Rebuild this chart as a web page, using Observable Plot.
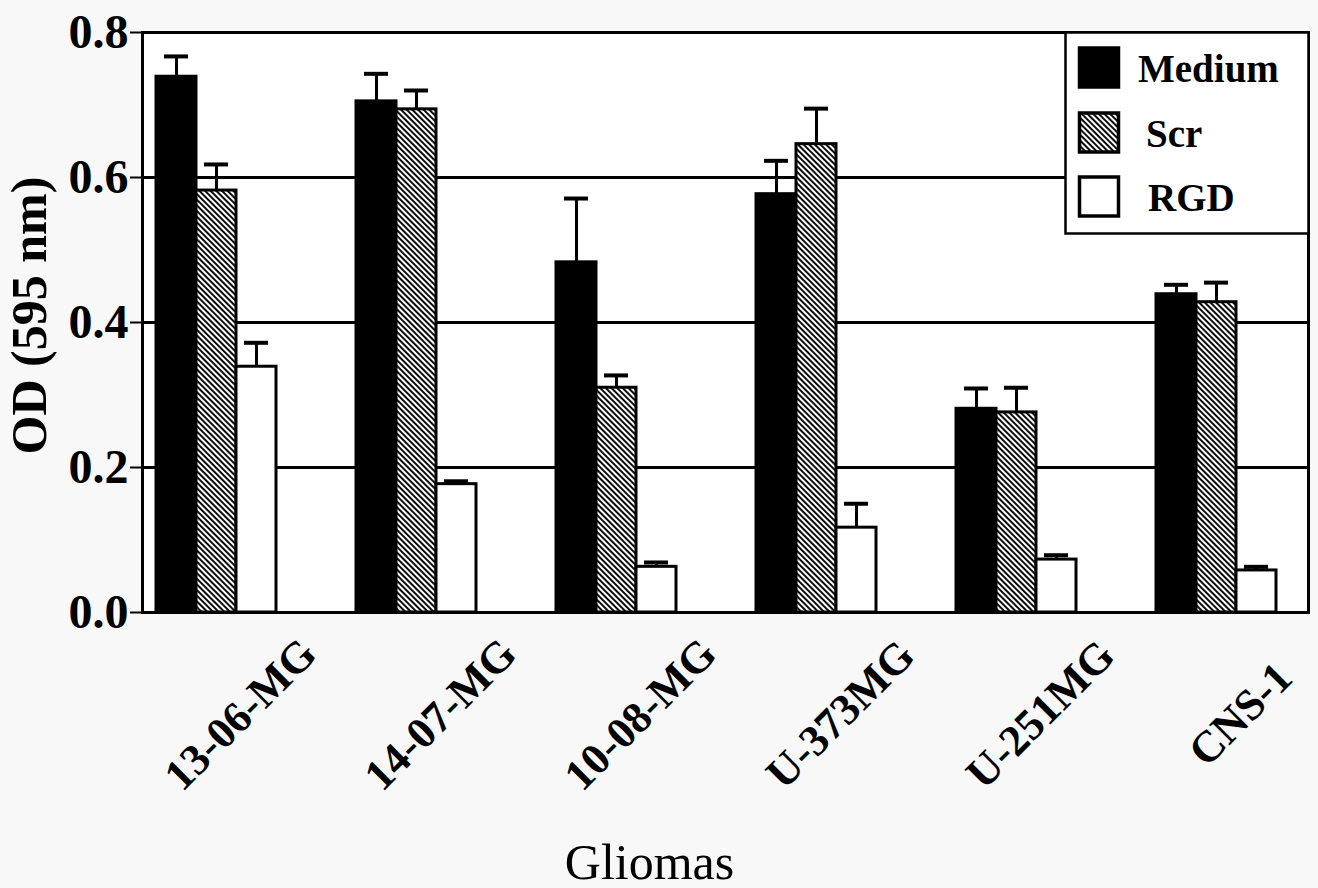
<!DOCTYPE html>
<html>
<head>
<meta charset="utf-8">
<script src="https://cdn.jsdelivr.net/npm/d3@7"></script>
<script src="https://cdn.jsdelivr.net/npm/@observablehq/plot@0.6"></script>
<style>
  html, body { margin: 0; padding: 0; background: #f8f8f8; }
  #wrap { position: relative; width: 1318px; height: 888px; overflow: hidden; }
  #legend { position: absolute; left: 1064px; top: 31px; }
</style>
</head>
<body>
<svg width="0" height="0" style="position:absolute">
  <defs>
    <pattern id="hatch" patternUnits="userSpaceOnUse" width="4" height="4" patternTransform="rotate(-45)">
      <rect width="4" height="4" fill="white"></rect>
      <line x1="2" y1="0" x2="2" y2="4" stroke="black" stroke-width="1.9"></line>
    </pattern>
  </defs>
</svg>
<div id="wrap"></div>
<script>
const groups = ["13-06-MG", "14-07-MG", "10-08-MG", "U-373MG", "U-251MG", "CNS-1"];
const series = ["Medium", "Scr", "RGD"];
const medium    = [0.739, 0.705, 0.483, 0.577, 0.281, 0.439];
const mediumErr = [0.028, 0.038, 0.088, 0.046, 0.028, 0.013];
const scr       = [0.582, 0.694, 0.310, 0.646, 0.276, 0.428];
const scrErr    = [0.036, 0.026, 0.017, 0.049, 0.034, 0.027];
const rgd       = [0.339, 0.177, 0.063, 0.117, 0.073, 0.058];
const rgdErr    = [0.033, 0.004, 0.006, 0.033, 0.006, 0.005];
const yTicks = [0, 0.2, 0.4, 0.6, 0.8];
const gridValues = [0.2, 0.4, 0.6];
const seriesFill = ["#000", "url(#hatch)", "#fff"];

const serif = "'Liberation Serif', 'Times New Roman', serif";
const keyOf = (g, s) => g + "|" + s;

// band slots: three bars per glioma followed by two empty slots
const slots = groups.flatMap((g, i) =>
  (i < groups.length - 1 ? [...series, "gap1", "gap2"] : series).map(s => keyOf(g, s)));

const valuesBySeries = {Medium: [medium, mediumErr], Scr: [scr, scrErr], RGD: [rgd, rgdErr]};
const rows = groups.flatMap((g, i) => series.map(s => ({
  group: g, series: s, value: valuesBySeries[s][0][i], err: valuesBySeries[s][1][i]
})));
const key = d => keyOf(d.group, d.series);

const chart = Plot.plot({
  width: 1318,
  height: 888,
  marginLeft: 142,
  marginRight: 10,
  marginTop: 32,
  marginBottom: 276,
  style: {background: "transparent", fontFamily: serif, color: "black"},
  x: {type: "band", domain: slots, paddingInner: 0, paddingOuter: 0.55, align: 0.3, axis: null},
  y: {domain: [0, 0.8]},
  color: {domain: series, range: seriesFill},
  marks: [
    Plot.frame({fill: "white", stroke: "none"}),
    Plot.ruleY(gridValues, {stroke: "black", strokeWidth: 3}),
    Plot.barY(rows, {x: key, y: "value", fill: "series", stroke: "black", strokeWidth: 3}),
    Plot.ruleX(rows, {x: key, y1: "value", y2: d => d.value + d.err, stroke: "black", strokeWidth: 3}),
    Plot.tickY(rows, {x: key, y: d => d.value + d.err, stroke: "black", strokeWidth: 4, insetLeft: 8, insetRight: 8}),
    Plot.frame({stroke: "black", strokeWidth: 3}),
    Plot.axisY({
      ticks: yTicks, tickFormat: d3.format(".1f"), tickSize: 12, tickPadding: 2,
      fontSize: 48, fontWeight: "bold", fontFamily: serif, strokeWidth: 2, label: null
    }),
    Plot.text(groups, {
      x: g => keyOf(g, "Scr"), text: d => d, frameAnchor: "bottom", dx: 24, dy: 102,
      rotate: -45, textAnchor: "middle", lineAnchor: "middle",
      fontSize: 44, fontWeight: "bold", fontFamily: serif, fill: "black"
    }),
    Plot.text(["OD (595 nm)"], {
      text: d => d, frameAnchor: "left", dx: -113, dy: -7, rotate: -90,
      textAnchor: "middle", lineAnchor: "middle",
      fontSize: 50, fontWeight: "bold", fontFamily: serif, fill: "black"
    }),
    Plot.text(["Gliomas"], {
      text: d => d, frameAnchor: "bottom", dx: -76, dy: 266,
      textAnchor: "middle", lineAnchor: "bottom",
      fontSize: 50, fontFamily: serif, fill: "black"
    })
  ]
});

const wrap = document.getElementById("wrap");
wrap.appendChild(chart);

// legend box in the top-right corner of the plot area
const ns = "http://www.w3.org/2000/svg";
const leg = document.createElementNS(ns, "svg");
leg.setAttribute("id", "legend");
leg.setAttribute("width", 246);
leg.setAttribute("height", 204);
const box = document.createElementNS(ns, "rect");
box.setAttribute("x", 1.5); box.setAttribute("y", 1.5);
box.setAttribute("width", 243); box.setAttribute("height", 201);
box.setAttribute("fill", "white"); box.setAttribute("stroke", "black"); box.setAttribute("stroke-width", 2.5);
leg.appendChild(box);
const swatchTop = [17, 82, 146];
const labelX = [74, 82, 84];
series.forEach((s, i) => {
  const r = document.createElementNS(ns, "rect");
  r.setAttribute("x", 15.5); r.setAttribute("y", swatchTop[i]);
  r.setAttribute("width", 39); r.setAttribute("height", 39);
  r.setAttribute("fill", seriesFill[i]); r.setAttribute("stroke", "black"); r.setAttribute("stroke-width", 3.5);
  leg.appendChild(r);
  const t = document.createElementNS(ns, "text");
  t.setAttribute("x", labelX[i]); t.setAttribute("y", swatchTop[i] + 34);
  t.setAttribute("font-family", serif); t.setAttribute("font-size", 39);
  t.setAttribute("font-weight", "bold");
  t.setAttribute("fill", "black");
  t.textContent = s;
  leg.appendChild(t);
});
wrap.appendChild(leg);
</script>
</body>
</html>
